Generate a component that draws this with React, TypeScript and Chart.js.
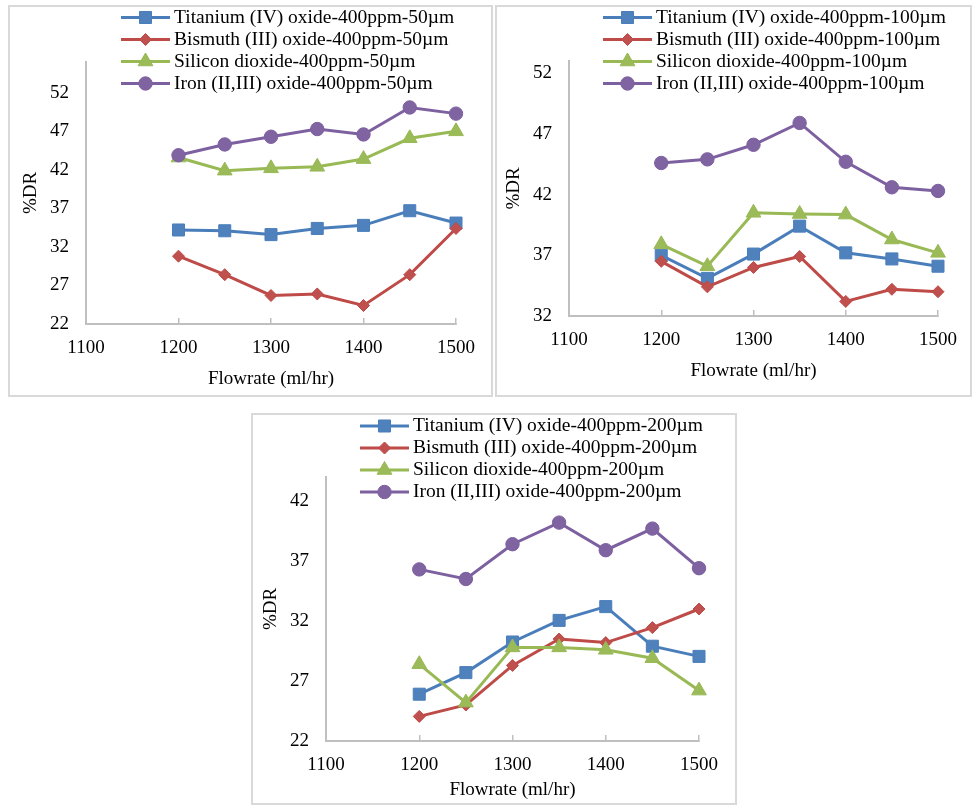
import React, { useEffect, useRef } from "react";
import { Chart, registerables } from "chart.js";

Chart.register(...registerables);

// ---------- data ----------
const flowrates = [1200, 1250, 1300, 1350, 1400, 1450, 1500];
const xTicks = [1100, 1200, 1300, 1400, 1500];

const ti50 = [34.2, 34.1, 33.6, 34.4, 34.8, 36.7, 35.1];
const bi50 = [30.8, 28.4, 25.7, 25.9, 24.4, 28.4, 34.4];
const si50 = [43.6, 41.9, 42.2, 42.4, 43.4, 46.1, 47.0];
const fe50 = [43.9, 45.3, 46.3, 47.3, 46.6, 50.1, 49.3];
const yTicks50 = [22, 27, 32, 37, 42, 47, 52];

const ti100 = [37.0, 35.1, 37.1, 39.4, 37.2, 36.7, 36.1];
const bi100 = [36.5, 34.4, 36.0, 36.9, 33.2, 34.2, 34.0];
const si100 = [37.9, 36.1, 40.5, 40.4, 40.35, 38.3, 37.2];
const fe100 = [44.6, 44.9, 46.1, 47.9, 44.7, 42.6, 42.3];
const yTicks100 = [32, 37, 42, 47, 52];

const ti200 = [25.9, 27.7, 30.25, 32.05, 33.2, 29.9, 29.05];
const bi200 = [24.05, 25.0, 28.3, 30.5, 30.2, 31.45, 33.0];
const si200 = [28.4, 25.2, 29.8, 29.8, 29.6, 28.9, 26.2];
const fe200 = [36.3, 35.5, 38.4, 40.2, 37.9, 39.7, 36.4];
const yTicks200 = [22, 27, 32, 37, 42];

const labels50 = [
  "Titanium (IV) oxide-400ppm-50µm",
  "Bismuth (III) oxide-400ppm-50µm",
  "Silicon dioxide-400ppm-50µm",
  "Iron (II,III) oxide-400ppm-50µm",
];
const labels100 = [
  "Titanium (IV) oxide-400ppm-100µm",
  "Bismuth (III) oxide-400ppm-100µm",
  "Silicon dioxide-400ppm-100µm",
  "Iron (II,III) oxide-400ppm-100µm",
];
const labels200 = [
  "Titanium (IV) oxide-400ppm-200µm",
  "Bismuth (III) oxide-400ppm-200µm",
  "Silicon dioxide-400ppm-200µm",
  "Iron (II,III) oxide-400ppm-200µm",
];

const xTitle = "Flowrate (ml/hr)";
const yTitle = "%DR";

// ---------- styles ----------
const FONT = "'Liberation Serif', 'Times New Roman', serif";
const lineColors = ["#4A7EBB", "#BE4B48", "#98B954", "#7D60A0"];
const fillColors = ["#4F81BD", "#C0504D", "#9BBB59", "#8064A2"];
const styles = ["rect", "rectRot", "triangle", "circle"];
const radii = [8.5, 6, 8.5, 6.7];
const AXIS = "#BFBFBF";
const AXFONT = 19;

function drawMarker(ctx: CanvasRenderingContext2D, style: string, x: number, y: number, r: number, fill: string, stroke: string) {
  ctx.save();
  ctx.fillStyle = fill;
  ctx.strokeStyle = stroke;
  ctx.lineWidth = 1;
  ctx.beginPath();
  if (style === "rect") {
    const s = Math.SQRT1_2 * r;
    ctx.rect(x - s, y - s, 2 * s, 2 * s);
  } else if (style === "rectRot") {
    ctx.moveTo(x, y - r);
    ctx.lineTo(x + r, y);
    ctx.lineTo(x, y + r);
    ctx.lineTo(x - r, y);
    ctx.closePath();
  } else if (style === "triangle") {
    for (let k = 0; k < 3; k++) {
      const a = -Math.PI / 2 + (k * 2 * Math.PI) / 3;
      const px = x + Math.cos(a) * r;
      const py = y + Math.sin(a) * r;
      if (k === 0) ctx.moveTo(px, py);
      else ctx.lineTo(px, py);
    }
    ctx.closePath();
  } else {
    ctx.arc(x, y, r, 0, Math.PI * 2);
  }
  ctx.fill();
  ctx.stroke();
  ctx.restore();
}

const framePlugin = {
  id: "frame",
  beforeDraw(chart: any) {
    const { ctx, width, height } = chart;
    ctx.save();
    ctx.fillStyle = "#fff";
    ctx.fillRect(0, 0, width, height);
    ctx.strokeStyle = "#D9D9D9";
    ctx.lineWidth = 2;
    ctx.strokeRect(1, 1, width - 2, height - 2);
    ctx.restore();
  },
};

const legendPlugin = {
  id: "xlLegend",
  afterDatasetsDraw(chart: any, _args: any, opts: any) {
    const ctx: CanvasRenderingContext2D = chart.ctx;
    const { x, y, spacing, lineLen, gap, size } = opts;
    chart.data.datasets.forEach((ds: any, i: number) => {
      const cy = y + i * spacing;
      ctx.save();
      ctx.strokeStyle = ds.borderColor;
      ctx.lineWidth = ds.borderWidth;
      ctx.beginPath();
      ctx.moveTo(x, cy);
      ctx.lineTo(x + lineLen, cy);
      ctx.stroke();
      drawMarker(ctx, ds.pointStyle, x + lineLen / 2, cy, ds.pointRadius, ds.pointBackgroundColor, ds.pointBorderColor);
      ctx.fillStyle = "#000";
      ctx.font = `${size}px ${FONT}`;
      ctx.textAlign = "left";
      ctx.textBaseline = "middle";
      ctx.fillText(ds.label, x + lineLen + gap, cy);
      ctx.restore();
    });
  },
};

type PanelProps = {
  left: number;
  top: number;
  width: number;
  height: number;
  series: number[][];
  names: string[];
  yMin: number;
  yMax: number;
  yTicks: number[];
  yWidth: number;
  xHeight: number;
  padTop: number;
  padRight: number;
  xTitlePad: number;
  yTitlePad: number;
  legendX: number;
  legendY: number;
};

function Panel(p: PanelProps) {
  const ref = useRef<HTMLCanvasElement>(null);
  useEffect(() => {
    if (!ref.current) return;
    const datasets = p.series.map((vals, i) => ({
      label: p.names[i],
      data: flowrates.map((f, j) => ({ x: f, y: vals[j] })),
      borderColor: lineColors[i],
      backgroundColor: fillColors[i],
      borderWidth: 3,
      pointStyle: styles[i],
      pointRadius: radii[i],
      pointBackgroundColor: fillColors[i],
      pointBorderColor: lineColors[i],
      pointBorderWidth: 1,
      tension: 0,
      clip: false,
      order: 3 - i,
    }));
    const chart = new Chart(ref.current, {
      type: "line",
      data: { datasets },
      plugins: [framePlugin, legendPlugin],
      options: {
        responsive: false,
        animation: false,
        devicePixelRatio: 1,
        layout: { padding: { left: 0, top: p.padTop, right: p.padRight, bottom: 0 } },
        plugins: {
          legend: { display: false },
          tooltip: { enabled: false },
          xlLegend: { x: p.legendX, y: p.legendY, spacing: 22, lineLen: 49, gap: 4, size: 19.5 },
        } as any,
        scales: {
          x: {
            type: "linear",
            min: 1100,
            max: 1500,
            afterBuildTicks: (s: any) => {
              s.ticks = xTicks.map((v) => ({ value: v }));
            },
            ticks: {
              color: "#000",
              font: { family: FONT, size: AXFONT },
              padding: 19,
              maxRotation: 0,
              autoSkip: false,
              callback: (v: any) => String(v),
            },
            grid: { display: true, drawOnChartArea: false, drawTicks: true, tickLength: -6, color: AXIS, lineWidth: 1.5 },
            border: { display: true, color: AXIS, width: 2 },
            title: {
              display: true,
              text: xTitle,
              color: "#000",
              font: { family: FONT, size: AXFONT },
              padding: { top: 0, bottom: p.xTitlePad },
            },
            afterFit: (s: any) => {
              s.height = p.xHeight;
              s.paddingLeft = 0;
              s.paddingRight = 0;
            },
          },
          y: {
            type: "linear",
            min: p.yMin,
            max: p.yMax,
            afterBuildTicks: (s: any) => {
              s.ticks = p.yTicks.map((v) => ({ value: v }));
            },
            ticks: {
              color: "#000",
              font: { family: FONT, size: AXFONT },
              padding: 17,
              autoSkip: false,
              callback: (v: any) => String(v),
            },
            grid: { display: false, drawTicks: false },
            border: { display: true, color: AXIS, width: 2 },
            title: {
              display: true,
              text: yTitle,
              color: "#000",
              font: { family: FONT, size: AXFONT },
              padding: { top: p.yTitlePad, bottom: 0 },
            },
            afterFit: (s: any) => {
              s.width = p.yWidth;
              s.paddingTop = 0;
              s.paddingBottom = 0;
            },
          },
        } as any,
      },
    } as any);
    return () => chart.destroy();
  }, []);
  return (
    <canvas
      ref={ref}
      width={p.width}
      height={p.height}
      style={{ position: "absolute", left: p.left, top: p.top, width: p.width, height: p.height, display: "block" }}
    />
  );
}

export default function App() {
  return (
    <div style={{ position: "absolute", left: 0, top: 0, width: 972, height: 805, overflow: "hidden" }}>
      <Panel
        left={8} top={5} width={485} height={392}
        series={[ti50, bi50, si50, fe50]} names={labels50}
        yMin={22} yMax={56} yTicks={yTicks50}
        yWidth={78} xHeight={73} padTop={57} padRight={37}
        xTitlePad={7} yTitlePad={12}
        legendX={113} legendY={12.5}
      />
      <Panel
        left={495} top={5} width={477} height={392}
        series={[ti100, bi100, si100, fe100]} names={labels100}
        yMin={32} yMax={53} yTicks={yTicks100}
        yWidth={74} xHeight={81} padTop={56} padRight={34}
        xTitlePad={15} yTitlePad={8}
        legendX={108} legendY={12.5}
      />
      <Panel
        left={251} top={413} width={486} height={392}
        series={[ti200, bi200, si200, fe200]} names={labels200}
        yMin={22} yMax={44} yTicks={yTicks200}
        yWidth={75} xHeight={64} padTop={64} padRight={38}
        xTitlePad={4} yTitlePad={9}
        legendX={109} legendY={13}
      />
    </div>
  );
}
